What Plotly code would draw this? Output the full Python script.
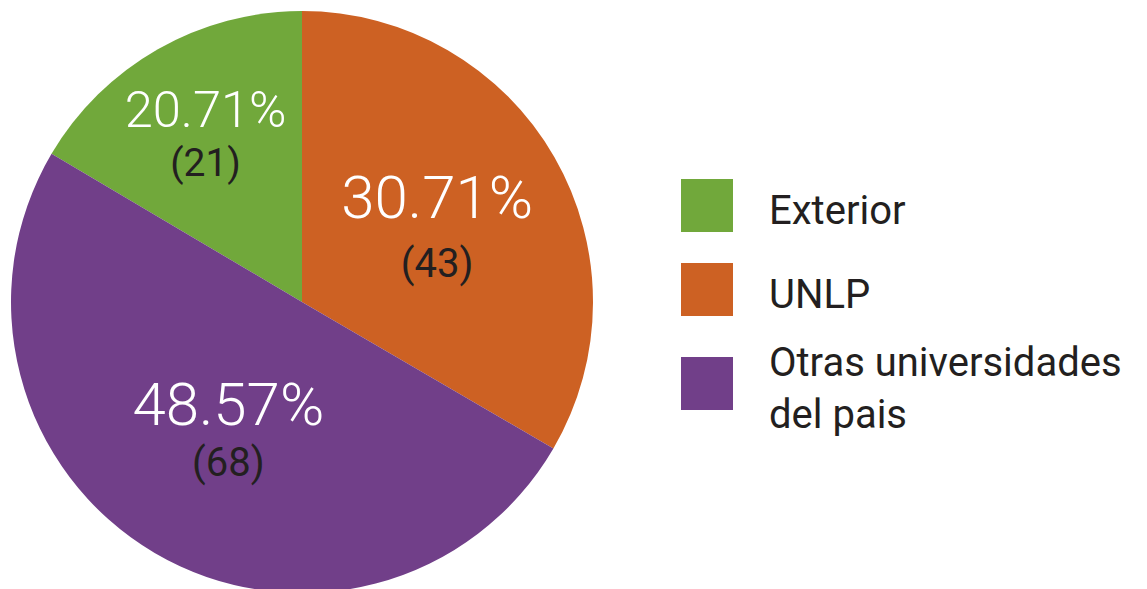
import plotly.graph_objects as go

# Data
labels = ["Exterior", "UNLP", "Otras universidades del pais"]
legend_text = ["Exterior", "UNLP", "Otras universidades<br>del pais"]
counts = [21, 43, 68]                      # counts printed on the chart
pct_labels = ["20.71%", "30.71%", "48.57%"]  # percentages printed on the chart
slice_share = [16.5, 33.4, 50.1]           # slice sizes as drawn
colors = ["#71A83B", "#CD6123", "#713F89"]

W, H = 1147, 588
OFF = 8  # page body margin
pct_sizes = [52, 60, 60]
line_sizes = [38, 45, 39]  # controls spacing between the two label lines

texts = [
    f"<span style='font-size:{s}px;font-weight:300;color:#FFFFFF'>{p}</span><br>"
    f"<span style='font-size:40px;color:#231F20'>({c})</span>"
    for p, c, s in zip(pct_labels, counts, pct_sizes)
]

# first slice (Exterior) ends at 12 o'clock, others follow clockwise
start_rot = -360 * slice_share[0] / sum(slice_share)

fig = go.Figure(go.Pie(
    labels=labels,
    values=slice_share,
    text=texts,
    textinfo="text",
    textposition="inside",
    insidetextorientation="horizontal",
    marker=dict(colors=colors, line=dict(width=0)),
    sort=False,
    direction="clockwise",
    rotation=start_rot,
    domain=dict(x=[(11 - OFF) / W, (593 - OFF) / W], y=[0, 1]),
    textfont=dict(family="Roboto", size=line_sizes),
    showlegend=False,
    hoverinfo="label",
))

# Custom legend (large swatches)
box_x0, box_x1 = 681 - OFF, 733 - OFF
box_tops = [179 - OFF, 263 - OFF, 357 - OFF]
for i, (lab, col) in enumerate(zip(legend_text, colors)):
    t = box_tops[i]
    fig.add_shape(type="rect", xref="paper", yref="paper",
                  x0=box_x0 / W, x1=box_x1 / W,
                  y0=1 - (t + 53) / H, y1=1 - t / H,
                  fillcolor=col, line=dict(width=0))
    fig.add_annotation(xref="paper", yref="paper",
                       x=(767 - OFF) / W, y=1 - (t + 31) / H,
                       xanchor="left", yanchor="middle",
                       text=lab, showarrow=False, align="left",
                       font=dict(family="Roboto", size=40, color="#231F20"))

fig.update_layout(
    width=W, height=H,
    margin=dict(l=0, r=0, t=0, b=0),
    paper_bgcolor="white",
    plot_bgcolor="white",
    font=dict(family="Roboto"),
)

fig.write_html("out.html")
